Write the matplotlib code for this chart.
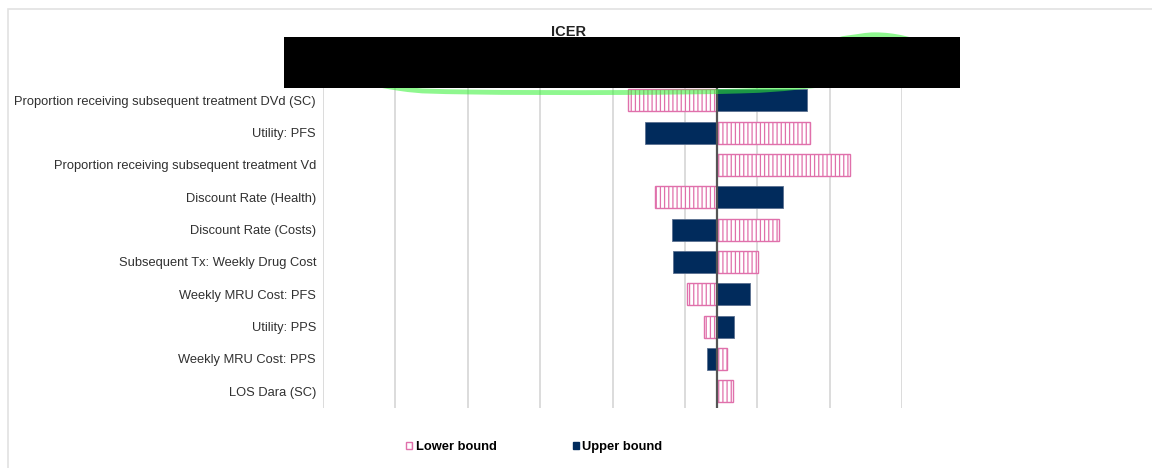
import matplotlib
matplotlib.use("Agg")
import matplotlib.pyplot as plt
from matplotlib.patches import Patch, Rectangle, PathPatch
from matplotlib.path import Path
from matplotlib.transforms import IdentityTransform
import numpy as np

plt.rcParams['font.family'] = ['Liberation Sans', 'DejaVu Sans']
plt.rcParams['hatch.linewidth'] = 0.9

# one-way sensitivity: ICER at lower / upper bound of each parameter
params = [
    "Proportion receiving subsequent treatment DVd (SC)",
    "Utility: PFS",
    "Proportion receiving subsequent treatment Vd",
    "Discount Rate (Health)",
    "Discount Rate (Costs)",
    "Subsequent Tx: Weekly Drug Cost",
    "Weekly MRU Cost: PFS",
    "Utility: PPS",
    "Weekly MRU Cost: PPS",
    "LOS Dara (SC)",
]
base_icer = 27250
icer_lower = [21090, 33640, 36410, 22960, 31500, 30050, 25170, 26320, 27890, 28300]
icer_upper = [33460, 22270, 27250, 31780, 24110, 24160, 29470, 28420, 26550, 27250]

pink = "#e070ab"
navy = "#012b5c"
W, H = 1152, 468


def closed_curve(pts):
    # smooth closed loop (Catmull-Rom as cubic Beziers), pts in image pixels
    pts = [np.array([x, H - y], float) for x, y in pts]
    n = len(pts)
    verts, codes = [pts[0]], [Path.MOVETO]
    for i in range(n):
        p0, p1, p2, p3 = pts[i - 1], pts[i], pts[(i + 1) % n], pts[(i + 2) % n]
        verts += [p1 + (p2 - p0) / 6, p2 - (p3 - p1) / 6, p2]
        codes += [Path.CURVE4] * 3
    return Path(verts, codes)


fig = plt.figure(figsize=(W / 100, H / 100), dpi=100)
ax = fig.add_axes([323 / W, 60.5 / H, 579 / W, 323.5 / H])

y = np.arange(len(params))
low = np.array(icer_lower) - base_icer
up = np.array(icer_upper) - base_icer

ax.barh(y, low, left=base_icer, height=0.68, color="white",
        edgecolor=pink, hatch="||||", linewidth=1.0, zorder=3)
ax.barh(y, up, left=base_icer, height=0.68, color=navy,
        edgecolor="#5a7090", linewidth=0.6, zorder=3)
ax.axvline(base_icer, color="#555555", lw=1.6, zorder=4)

ax.set_xlim(0, 40000)
ax.set_ylim(len(params) - 0.5, -0.5)
ax.set_xticks(np.arange(0, 40001, 5000))
ax.xaxis.grid(True, color="#dcdcdc", lw=1.4, zorder=0)
ax.set_axisbelow(True)
ax.tick_params(axis="x", length=0, labelbottom=False)
ax.tick_params(axis="y", length=0, pad=5, labelsize=9.25, labelcolor="#303030")
ax.set_yticks(y)
ax.set_yticklabels(params)
for s in ax.spines.values():
    s.set_visible(False)

fig.text(569 / W, 1 - 25 / H, "ICER", ha="center", va="top",
         fontsize=10.5, fontweight="bold", color="#222222")

handles = [Patch(facecolor="white", edgecolor=pink, hatch="||", lw=1.0, label="Lower bound"),
           Patch(facecolor=navy, edgecolor=navy, label="Upper bound")]
fig.legend(handles=handles, loc="center left", bbox_to_anchor=(406 / W, 1 - 447 / H),
           ncol=2, frameon=False, handlelength=0.5, handleheight=0.5,
           handletextpad=0.25, columnspacing=5.9, borderpad=0, borderaxespad=0,
           prop={"weight": "bold", "size": 9.3})

# outer frame of the chart area
fig.patches.append(Rectangle((8, -5), 1200, H - 9 + 5, transform=IdentityTransform(),
                             fill=False, edgecolor="#e2e2e2", lw=1.2))

# green marker loop and redaction block over the axis labels
ring = closed_curve([(335, 72), (400, 88.5), (470, 92), (620, 92.5), (740, 91),
                     (800, 87), (890, 76), (932, 60), (928, 47), (903, 38),
                     (875, 34.8), (847, 38), (800, 44), (600, 49), (400, 58)])
fig.patches.append(PathPatch(ring, transform=IdentityTransform(), fill=False,
                             edgecolor=(0.2, 0.95, 0.2), alpha=0.55, lw=3.5, zorder=5))
fig.patches.append(Rectangle((284, H - 88), 676, 51, transform=IdentityTransform(),
                             facecolor="black", edgecolor="none", zorder=6))

fig.savefig("out.png", dpi=100)
